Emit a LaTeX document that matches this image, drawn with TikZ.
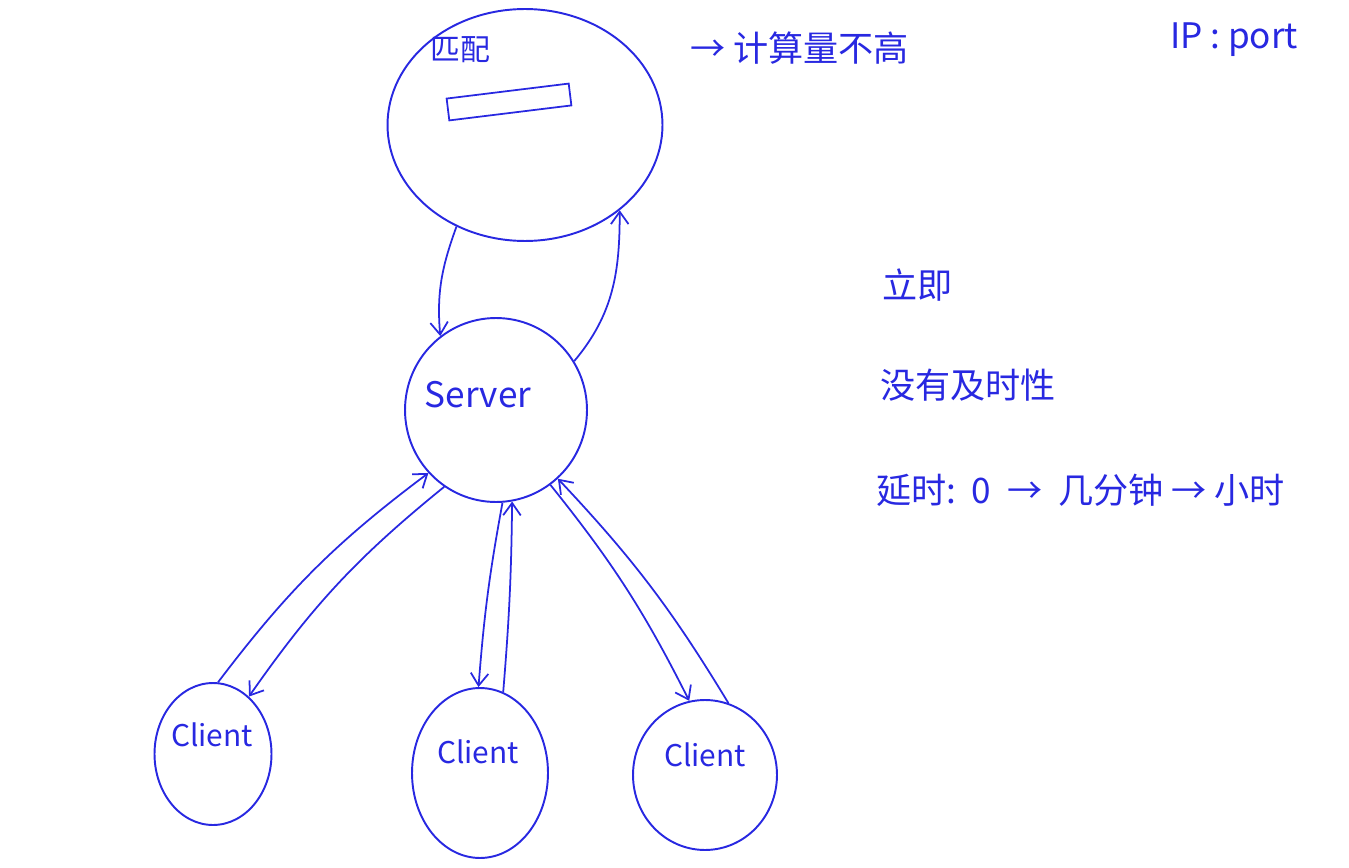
\documentclass[tikz,border=0pt]{standalone}
\usepackage{fontspec}
\setmainfont{Noto Sans CJK SC}
\usepackage{xcolor}
\usepackage{tikz}
\usetikzlibrary{shapes.geometric,arrows.meta}
\definecolor{ink}{RGB}{40,40,225}

\begin{document}
\begin{tikzpicture}[x=0.02cm,y=-0.02cm,
  blob/.style={ellipse,draw=ink,line width=1.1pt,inner sep=0pt},
  hand/.style={text=ink,font=\fontsize{20}{24}\selectfont,inner sep=1pt},
  small/.style={text=ink,font=\fontsize{17}{20}\selectfont,inner sep=1pt},
  wire/.style={-{Straight Barb[length=7pt,width=10pt]},draw=ink,line width=1pt}]
  \useasboundingbox (0,0) rectangle (1349,868);
  % nodes
  \node[blob,minimum width=5.5cm,minimum height=4.64cm] (match) at (525,125) {};
  \node[small] (matchlbl) at (460,50) {匹配};
  \node[draw=ink,line width=1pt,minimum width=2.46cm,minimum height=0.44cm,rotate=7,inner sep=0pt] (bar) at (509,102) {};
  \node[blob,minimum width=3.64cm,minimum height=3.68cm] (srv) at (496,410) {};
  \node[hand] (srvlbl) at (478,395) {Server};
  \node[blob,minimum width=2.34cm,minimum height=2.84cm] (cla) at (213,754) {};
  \node[small] (clalbl) at (212,735) {Client};
  \node[blob,minimum width=2.72cm,minimum height=3.4cm] (clb) at (480,773) {};
  \node[small] (clblbl) at (478,752) {Client};
  \node[blob,minimum width=2.88cm,minimum height=3.0cm] (clc) at (705,775) {};
  \node[small] (clclbl) at (705,755) {Client};
  % notes
  \node[hand,anchor=west] (cost) at (688,48) {→ 计算量不高};
  \node[hand,anchor=west] (addr) at (1168,40) {IP : port};
  \node[hand,anchor=west] (now) at (880,285) {立即};
  \node[hand,anchor=west] (late) at (878,385) {没有及时性};
  \node[hand,anchor=west] (delay) at (874,490) {延时:\ \ 0 \ → \ 几分钟 → 小时};
  % links
  \draw[wire] (match.236) to[out=250,in=95] (srv.127);
  \draw[wire] (srv.32) to[out=50,in=270] (match.318);
  \draw[wire] (cla.86) to[bend left=8] (srv.223);
  \draw[wire] (srv.236) to[bend right=8] (cla.58);
  \draw[wire] (srv.274) to[bend right=3] (clb.91);
  \draw[wire] (clb.74) to[bend right=2] (srv.280);
  \draw[wire] (srv.306) to[bend left=6] (clc.102);
  \draw[wire] (clc.72) to[bend right=6] (srv.312);
\end{tikzpicture}
\end{document}
